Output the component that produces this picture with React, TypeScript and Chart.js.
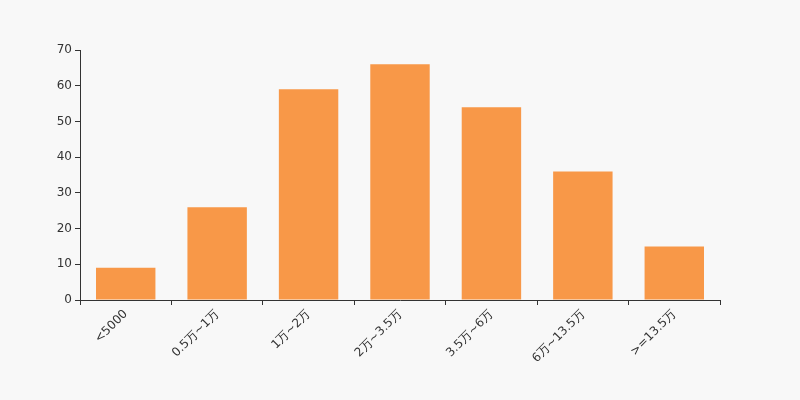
import React, { useEffect, useRef } from "react";
import { Chart, registerables } from "chart.js";

Chart.register(...registerables);

const categories = ["<5000", "0.5万~1万", "1万~2万", "2万~3.5万", "3.5万~6万", "6万~13.5万", ">=13.5万"];
const values = [9, 26, 59, 66, 54, 36, 15];
const yTicks = [0, 10, 20, 30, 40, 50, 60, 70];

export default function App() {
  const ref = useRef<HTMLCanvasElement | null>(null);
  useEffect(() => {
    if (!ref.current) return;
    const font = { family: "'DejaVu Sans', sans-serif", size: 12 };
    const chart = new Chart(ref.current, {
      type: "bar",
      data: {
        labels: categories,
        datasets: [
          {
            data: values,
            backgroundColor: "#f89848",
            borderWidth: 0,
            categoryPercentage: 1,
            barPercentage: 0.65,
          },
        ],
      },
      options: {
        animation: false,
        responsive: false,
        maintainAspectRatio: false,
        layout: { padding: { top: 50, right: 80, left: 0, bottom: 0 } },
        plugins: { legend: { display: false }, tooltip: { enabled: false } },
        scales: {
          x: {
            grid: { display: true, drawOnChartArea: false, drawTicks: true, tickLength: 5, color: "#333", offset: true },
            border: { display: true, color: "#333", width: 1 },
            ticks: { color: "#333", font, minRotation: 45, maxRotation: 45, autoSkip: false, padding: 2 },
            afterFit: (s: any) => { s.height = 100; },
          },
          y: {
            min: 0,
            max: 70,
            afterBuildTicks: (s: any) => { s.ticks = yTicks.map((v) => ({ value: v })); },
            grid: { display: true, drawOnChartArea: false, drawTicks: true, tickLength: 5, color: "#333" },
            border: { display: true, color: "#333", width: 1 },
            ticks: { color: "#333", font, padding: 3 },
            afterFit: (s: any) => { s.width = 80; },
          },
        },
      },
    });
    return () => chart.destroy();
  }, []);
  return (
    <div style={{ position: "fixed", left: 0, top: 0, width: 800, height: 400, background: "#f8f8f8" }}>
      <canvas ref={ref} width={800} height={400} style={{ width: 800, height: 400, display: "block" }} />
    </div>
  );
}
